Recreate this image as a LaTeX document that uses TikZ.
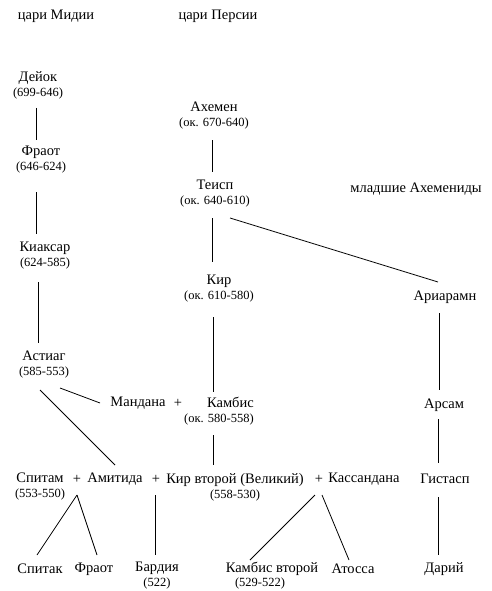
\documentclass[tikz,border=0pt]{standalone}
\usepackage{fontspec}
\setmainfont{Liberation Serif}
\usetikzlibrary{calc}
\newcommand\yrs[1]{{\fontsize{12.5}{15}\selectfont #1}}
\begin{document}
\begin{tikzpicture}[x=1pt,y=-1pt,
  every node/.style={inner sep=0pt, font=\fontsize{14.5}{15}\selectfont},
  person/.style={align=center},
  link/.style={draw=black, line width=0.8pt}]
\fill[white] (0,0) rectangle (491,591);
\useasboundingbox (0,0) rectangle (491,591);
% titles
\node (tM) at (56,16) {цари Мидии};
\node (tP) at (218,16) {цари Персии};
% Medes
\node[person] (dejok) at (38,85) {Дейок\\\yrs{(699-646)}};
\node[person] (fraot) at (41,160) {Фраот\\\yrs{(646-624)}};
\node[person] (kiaksar) at (45,256) {Киаксар\\\yrs{(624-585)}};
\node[person] (astiag) at (44,365) {Астиаг\\\yrs{(585-553)}};
% Persians
\node[person] (ahemen) at (214,116) {Ахемен\\\yrs{(ок. 670-640)}};
\node[person] (teisp) at (215,194) {Теисп\\\yrs{(ок. 640-610)}};
\node[person] (kir) at (219,289) {Кир\\\yrs{(ок. 610-580)}};
\node (junior) at (416,189) {младшие Ахемениды};
\node (ariaramn) at (445,297) {Ариарамн};
\node (mandana) at (138,403) {Мандана};
\node (plusA) at (178,403) {+};
\node[align=right] (kambis) at (219,411) {Камбис\\\yrs{(ок. 580-558)}};
\node (arsam) at (444,405) {Арсам};
% generation of Cyrus II
\node[person] (spitam) at (40,487) {Спитам\\\yrs{(553-550)}};
\node (plusB) at (77,479) {+};
\node (amitida) at (115,479) {Амитида};
\node (plusC) at (156,479) {+};
\node[person] (kir2) at (235,487) {Кир второй (Великий)\\\yrs{(558-530)}};
\node (plusD) at (319,479) {+};
\node (kassandana) at (364,479) {Кассандана};
\node (gistasp) at (445,479) {Гистасп};
% children
\node (spitak) at (40,569) {Спитак};
\node (fraot2) at (94,569) {Фраот};
\node[person] (bardia) at (157,576) {Бардия\\\yrs{(522)}};
\node (kambis2) at (272,569) {Камбис второй};
\node (kambis2d) at (260,583) {\yrs{(529-522)}};
\node (atossa) at (353,569) {Атосса};
\node (darij) at (444,569) {Дарий};
% connectors
\draw[link] ($(dejok)+(-2,23)$) -- ($(fraot)+(-5,-20)$);
\draw[link] ($(fraot)+(-5,32)$) -- ($(kiaksar)+(-9,-22)$);
\draw[link] ($(kiaksar)+(-7,26)$) -- ($(astiag)+(-6,-22)$);
\draw[link] ($(astiag)+(16,23)$) -- ($(mandana)+(-38,0)$);
\draw[link] ($(astiag)+(-4,25)$) -- ($(amitida)+(0,-14)$);
\draw[link] ($(ahemen)+(-2,24)$) -- ($(teisp)+(-3,-22)$);
\draw[link] ($(teisp)+(-3,24)$) -- ($(kir)+(-7,-27)$);
\draw[link] ($(teisp)+(15,24)$) -- ($(ariaramn)+(-7,-15)$);
\draw[link] ($(kir)+(-6,28)$) -- ($(kambis)+(-6,-19)$);
\draw[link] ($(ariaramn)+(-6,16)$) -- ($(arsam)+(-5,-15)$);
\draw[link] ($(kambis)+(-6,24)$) -- ($(kir2)+(-22,-22)$);
\draw[link] ($(arsam)+(-6,14)$) -- ($(gistasp)+(-7,-16)$);
\draw[link] ($(plusB)+(0,16)$) -- ($(spitak)+(-3,-14)$);
\draw[link] ($(plusB)+(0,16)$) -- ($(fraot2)+(3,-14)$);
\draw[link] ($(plusC)+(-1,16)$) -- ($(bardia)+(-2,-21)$);
\draw[link] ($(plusD)+(-4,16)$) -- ($(kambis2)+(-22,-9)$);
\draw[link] ($(plusD)+(3,16)$) -- ($(atossa)+(-4,-9)$);
\draw[link] ($(gistasp)+(-7,18)$) -- ($(darij)+(-6,-14)$);
\end{tikzpicture}
\end{document}
